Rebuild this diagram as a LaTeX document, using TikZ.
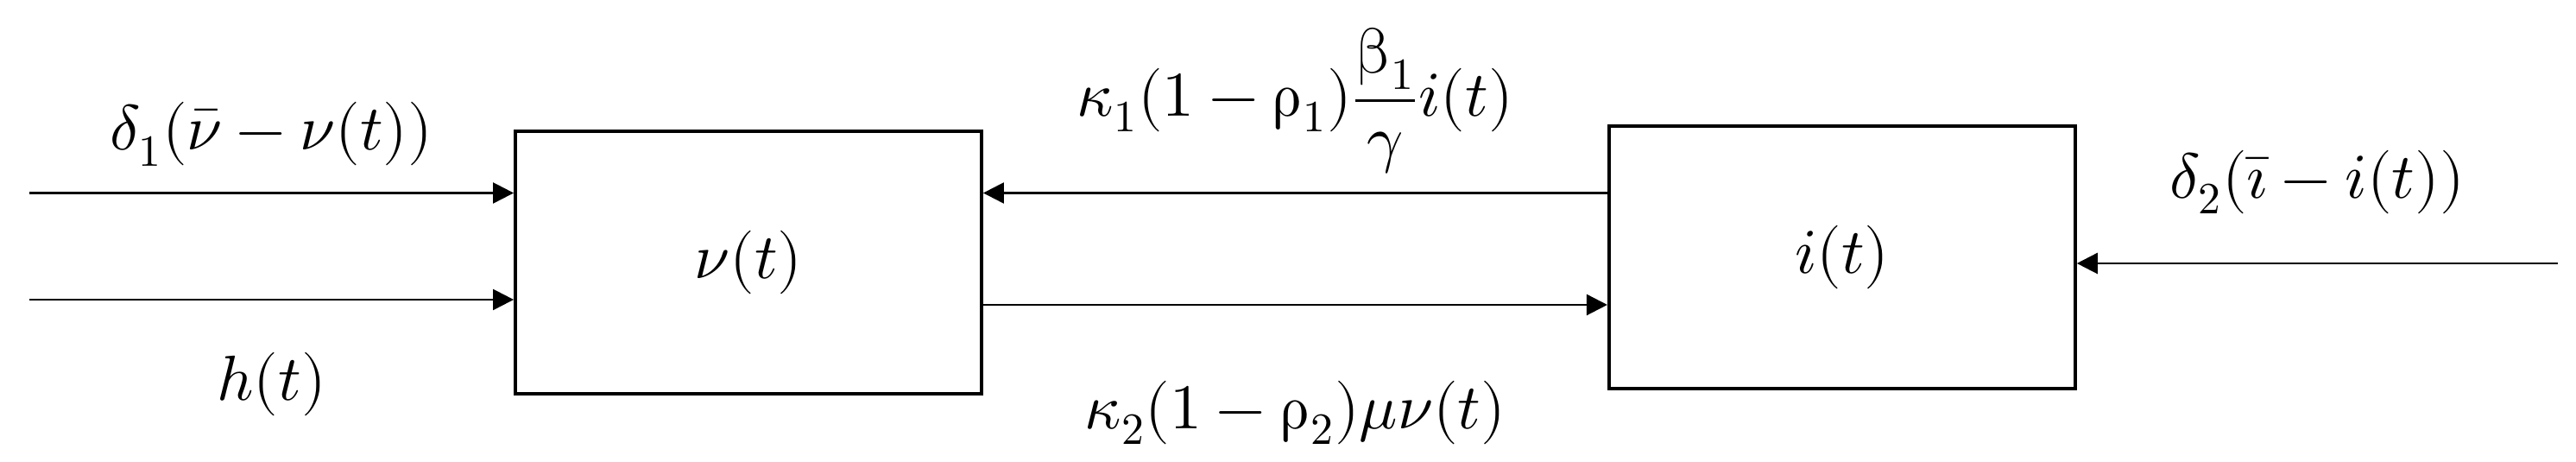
\documentclass[tikz,border=0pt]{standalone}
\usepackage{amsmath}
\usepackage{unicode-math}
\usetikzlibrary{positioning}
\usetikzlibrary{arrows.meta}
\tikzset{node distance=7.23cm,
    every node/.style={
        font=\fontsize{21}{25}\selectfont},
    block/.style={
        draw,
        line width=1.1pt,
        minimum width=5.4cm,
        minimum height=3.04cm},
    lbl/.style={inner sep=0pt},
    every edge/.style={
        draw,
        ->,>={Triangle[length=2.4mm,width=2.4mm]},
        line width=0.7pt}}

\begin{document}
\begin{tikzpicture}
        \useasboundingbox (0,0) rectangle (29.84,5.35);
        \node[block] (vbox) at (8.67,2.31) {$\nu(t)$};
        \node[block,right=of vbox,yshift=0.6mm] (ibox) {$i(t)$};
        \coordinate (vin) at (0.34,3.115);
        \coordinate (hin) at (0.34,1.88);
        \coordinate (vout) at ([yshift=-4.9mm]vbox.east);
        \coordinate (iin) at (29.63,2.30);

        \draw (vin) edge node[lbl,above=0.3cm] {$\delta_1(\bar{\nu}-\nu(t))$} (vin -| vbox.west);
        \draw (hin) edge node[lbl,below=0.6cm] {$h(t)$} (hin -| vbox.west);
        \draw (ibox.west |- vin) edge node[lbl,above=0.21cm] {$\kappa_1(1-\symup{\rho}_1)\dfrac{\symup{\beta}_1}{\gamma}i(t)$} (vbox.east |- vin);
        \draw (vout) edge node[lbl,below=0.87cm] {$\kappa_2(1-\symup{\rho}_2)\mu\nu(t)$} (vout -| ibox.west);
        \draw (iin) edge node[lbl,above=0.56cm] {$\delta_2(\bar{\imath}-i(t))$} (iin -| ibox.east);
    \end{tikzpicture}
\end{document}
